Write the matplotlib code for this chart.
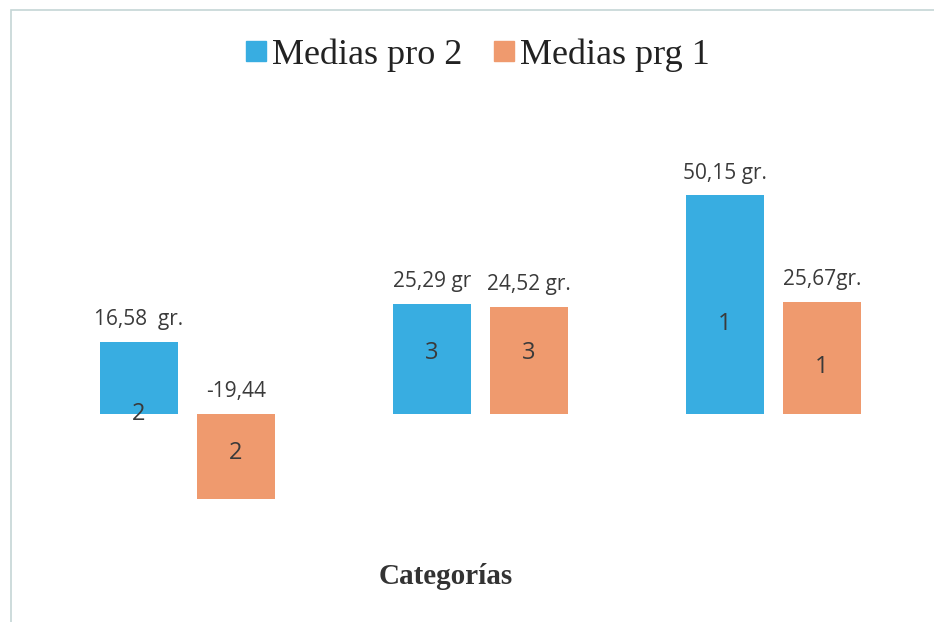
import matplotlib.pyplot as plt
from matplotlib.lines import Line2D
from matplotlib.patches import Rectangle
import numpy as np

# data
series_names = ['Medias pro 2', 'Medias prg 1']
medias_pro2 = [16.58, 25.29, 50.15]
medias_prg1 = [-19.44, 24.52, 25.67]
labels_pro2 = ['16,58  gr.', '25,29 gr', '50,15 gr.']
labels_prg1 = ['-19,44', '24,52 gr.', '25,67gr.']
rank_pro2 = ['2', '3', '1']
rank_prg1 = ['2', '3', '1']
axis_title = 'Categorías'

# where the rank number sits inside each bar (fraction of bar height)
rank_pos_pro2 = [0.0, 0.55, 0.41]
rank_pos_prg1 = [0.46, 0.57, 0.42]

blue = '#38ade1'
orange = '#ef9a6e'
text_col = '#3a3a3a'
label_font = 'Open Sans'

fig = plt.figure(figsize=(9.34, 6.22), dpi=100)
ax = fig.add_axes([0, 0, 1, 1])
ax.axis('off')
ax.set_xlim(-0.64, 2.548)
ax.set_ylim(-47.7, 94.95)

x = np.arange(len(medias_pro2))
width = 0.266
off = 0.1655

b1 = ax.bar(x - off, medias_pro2, width, color=blue)
b2 = ax.bar(x + off, medias_prg1, width, color=orange)

# value labels above the bars
for xs, vals, labs in [(x - off, medias_pro2, labels_pro2), (x + off, medias_prg1, labels_prg1)]:
    for xi, v, lab in zip(xs, vals, labs):
        ax.annotate(lab, (xi, max(v, 0)), xytext=(0, 16), textcoords='offset points',
                    ha='center', va='center', fontsize=15, color=text_col, family=label_font)

# rank numbers inside the bars
for xs, vals, ranks, pos in [(x - off, medias_pro2, rank_pro2, rank_pos_pro2),
                             (x + off, medias_prg1, rank_prg1, rank_pos_prg1)]:
    for xi, v, r, p in zip(xs, vals, ranks, pos):
        ax.text(xi, v * p, r, ha='center', va='center', fontsize=17,
                color=text_col, family=label_font)

# axis title at the bottom
fig.text(446 / 934, 1 - 577 / 622, axis_title, ha='center', va='center',
         fontsize=21, fontweight='bold', family='Liberation Serif', color='#333333')

# legend
handles = [Line2D([], [], marker='s', ls='', markersize=14, color=c) for c in (blue, orange)]
fig.legend(handles, series_names, loc='center', bbox_to_anchor=(478 / 934, 1 - 55 / 622),
           ncol=2, frameon=False, handlelength=0.55, handletextpad=0.15, columnspacing=0.9,
           prop={'family': 'Liberation Serif', 'size': 26}, labelcolor='#222222')

# chart border (only top and left edges are visible in the scan)
fig.patches.append(Rectangle((11 / 934, -0.1), 1.2, 1 - 10 / 622 + 0.1, transform=fig.transFigure,
                             fill=False, edgecolor='#c5d6d6', linewidth=1.2))

fig.savefig('out.png', dpi=100)
